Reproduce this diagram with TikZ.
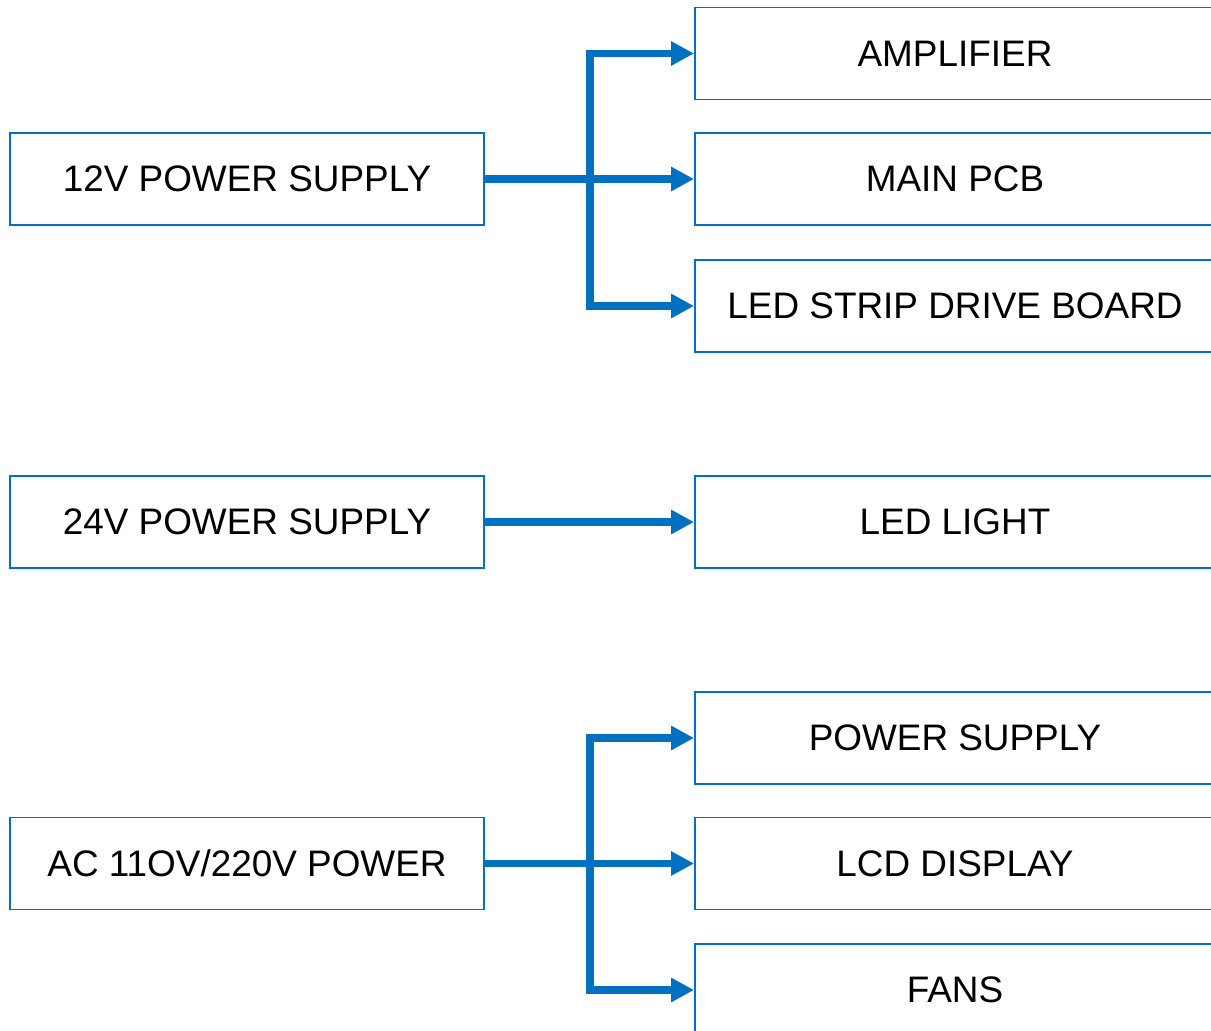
\documentclass[tikz,border=0pt]{standalone}
\usepackage{fontspec}
\setmainfont{Liberation Sans}
\usetikzlibrary{arrows.meta}
\definecolor{wireblue}{RGB}{0,112,192}
\tikzset{
  srcbox/.style={draw=wireblue, line width=1.1pt, minimum width=9.48cm, minimum height=1.84cm,
    inner sep=0pt, font=\fontsize{21}{25}\selectfont},
  loadbox/.style={srcbox, minimum width=10.4cm},
  feed/.style={draw=wireblue, line width=4pt, -{Triangle[length=0.46cm,width=0.46cm]}}
}

\begin{document}
\begin{tikzpicture}[x=0.02cm, y=-0.02cm]
\useasboundingbox (0,0) rectangle (1211,1031);
\node[srcbox] (ps12) at (247,179) {12V POWER SUPPLY};
\node[srcbox] (ps24) at (247,522) {24V POWER SUPPLY};
\node[srcbox] (acin) at (247,863.5) {AC 11OV/220V POWER};
\node[loadbox] (amp) at (955,53.5) {AMPLIFIER};
\node[loadbox] (pcb) at (955,179) {MAIN PCB};
\node[loadbox] (strip) at (955,306) {LED STRIP DRIVE BOARD};
\node[loadbox] (light) at (955,522) {LED LIGHT};
\node[loadbox] (psu) at (955,738) {POWER SUPPLY};
\node[loadbox] (lcd) at (955,863.5) {LCD DISPLAY};
\node[loadbox] (fans) at (955,990) {FANS};
\coordinate (j12) at (590,179);
\coordinate (jac) at (590,863.5);
\draw[feed] (ps12.east) -- (pcb.west);
\draw[feed] (j12) |- (amp.west);
\draw[feed] (j12) |- (strip.west);
\draw[feed] (ps24.east) -- (light.west);
\draw[feed] (acin.east) -- (lcd.west);
\draw[feed] (jac) |- (psu.west);
\draw[feed] (jac) |- (fans.west);
\end{tikzpicture}
\end{document}
